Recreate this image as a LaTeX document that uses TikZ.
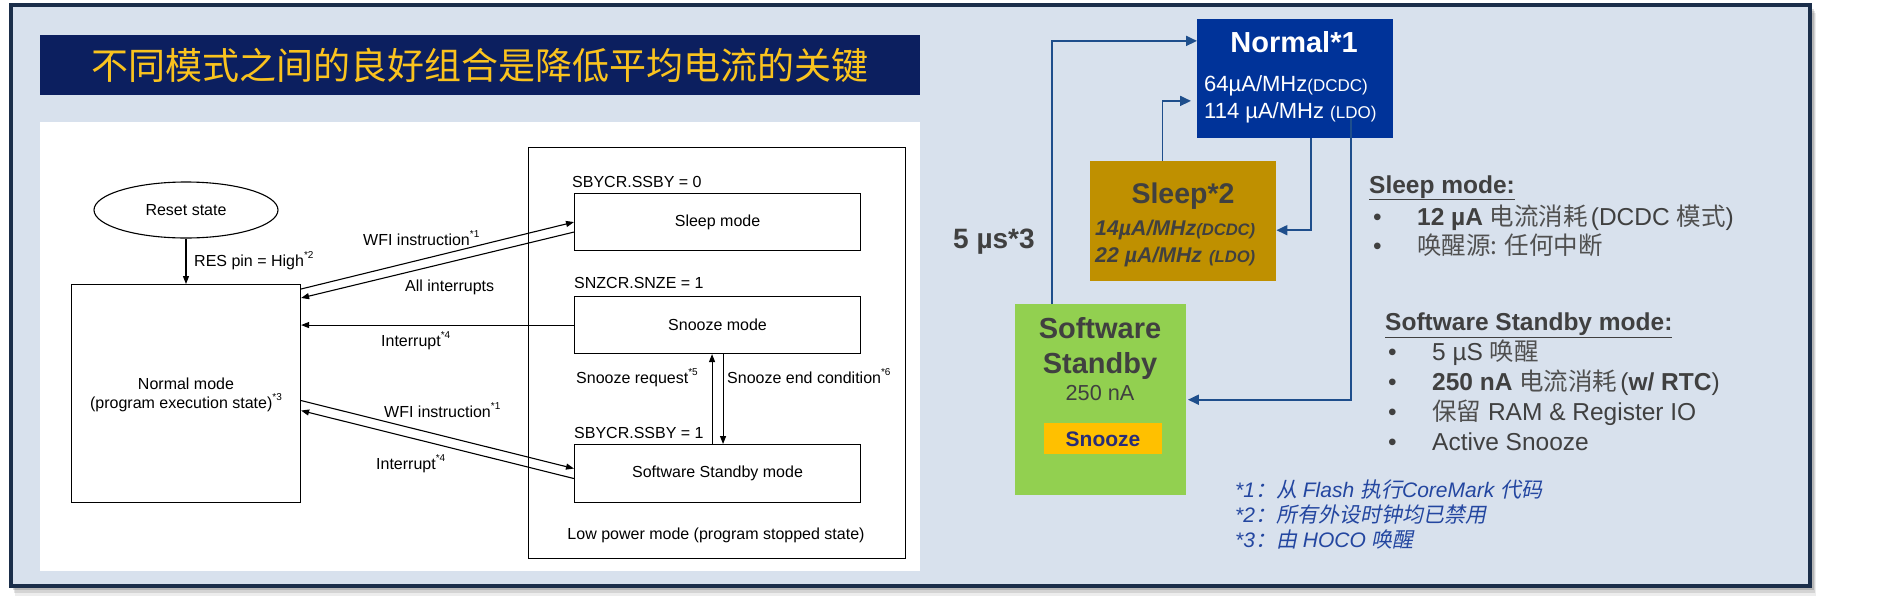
\documentclass[tikz,border=0pt]{standalone}
\usepackage{fontspec}
\setmainfont{Liberation Sans}
\newfontfamily\cjk{Noto Sans CJK SC}
\newfontfamily\cjkit[FakeSlant=0.2]{Noto Sans CJK SC}
\usetikzlibrary{arrows.meta,shapes.geometric}
\definecolor{framec}{RGB}{27,46,74}
\definecolor{bgc}{RGB}{216,225,237}
\definecolor{navyc}{RGB}{12,31,95}
\definecolor{titlec}{RGB}{250,195,30}
\definecolor{nblue}{RGB}{0,51,153}
\definecolor{goldc}{RGB}{191,144,0}
\definecolor{greenc}{RGB}{146,208,80}
\definecolor{snzc}{RGB}{255,192,0}
\definecolor{snztext}{RGB}{40,45,120}
\definecolor{arrowc}{RGB}{30,78,140}
\definecolor{txtgray}{RGB}{64,64,64}
\definecolor{cjkgray}{RGB}{80,80,80}
\definecolor{fnblue}{RGB}{35,70,160}
\newcommand\mysup[1]{\raisebox{0.45em}{\fontsize{10}{10}\selectfont #1}}
\tikzset{
  lbox/.style={draw=black, line width=1.1pt, fill=white, inner sep=0, anchor=north west},
  ltxt/.style={font=\fontsize{16}{19}\selectfont, inner sep=0, text=black},
  larr/.style={draw=black, line width=1.1pt, -{Triangle[length=8pt,width=6pt]}},
  rbox/.style={draw=none, inner sep=0, anchor=north west},
  rarr/.style={draw=arrowc, line width=1.8pt, -{Triangle[length=11pt,width=10pt]}},
  rt/.style={font=\fontsize{24.5}{28}\selectfont, text=txtgray, inner sep=0, anchor=base west},
  fn/.style={font=\fontsize{21}{24}\selectfont\itshape, text=fnblue, inner sep=0, anchor=base west},
}
\newcommand\zh[1]{{\cjk\color{cjkgray}#1}}
\begin{document}
\begin{tikzpicture}[x=1pt,y=-1pt]
\useasboundingbox (0,0) rectangle (1887,603);
\fill[white] (0,0) rectangle (1887,603);
% shadow
\fill[black,opacity=0.07] (15,13) rectangle (1816,596);
\fill[black,opacity=0.10] (14,11) rectangle (1815,593);
\fill[black,opacity=0.14] (13,9) rectangle (1814,590);
% frame
\draw[framec, line width=3.5pt, fill=bgc] (11,5) rectangle (1810,586);
% title
\node[fill=navyc, minimum width=880pt, minimum height=60pt, inner sep=0, anchor=north west] (tbar) at (40,35) {};
\node[font=\cjk\fontsize{37}{40}\selectfont, text=titlec, inner sep=0] (title) at (tbar.center) {不同模式之间的良好组合是降低平均电流的关键};
% left panel
\node[fill=white, minimum width=880pt, minimum height=449pt, inner sep=0, anchor=north west] (panel) at (40,122) {};
\node[lbox, minimum width=377pt, minimum height=411pt] (lp) at (528,147) {};
\node[lbox, minimum width=229pt, minimum height=218pt] (nrm) at (71,284) {};
\node[lbox, minimum width=286pt, minimum height=57pt] (slp) at (574,193) {};
\node[lbox, minimum width=286pt, minimum height=57pt] (snz) at (574,296) {};
\node[lbox, minimum width=286pt, minimum height=58pt] (sby) at (574,444) {};
\node[draw=black, ellipse, line width=1.1pt, fill=white, minimum width=184pt, minimum height=56pt, inner sep=0] (rst) at (186,210) {};
\node[ltxt] (rstt) at (rst.center) {Reset state};
\node[ltxt, anchor=base] (nrmt1) at (186,389) {Normal mode};
\node[ltxt, anchor=base] (nrmt2) at (186,408) {(program execution state)\mysup{*3}};
\node[ltxt] (slpt) at (slp.center) {Sleep mode};
\node[ltxt] (snzt) at (snz.center) {Snooze mode};
\node[ltxt] (sbyt) at (sby.center) {Software Standby mode};
\node[ltxt, anchor=base west] (c0) at (572,187) {SBYCR.SSBY = 0};
\node[ltxt, anchor=base west] (c1) at (574,288) {SNZCR.SNZE = 1};
\node[ltxt, anchor=base west] (c2) at (574,438) {SBYCR.SSBY = 1};
\node[ltxt, anchor=base] (lpt) at (716,539) {Low power mode (program stopped state)};
\node[ltxt, anchor=base west] (l1) at (194,266) {RES pin = High\mysup{*2}};
\node[ltxt, anchor=base west] (l2) at (363,245) {WFI instruction\mysup{*1}};
\node[ltxt, anchor=base west] (l3) at (405,291) {All interrupts};
\node[ltxt, anchor=base west] (l4) at (381,346) {Interrupt\mysup{*4}};
\node[ltxt, anchor=base west] (l5) at (576,383) {Snooze request\mysup{*5}};
\node[ltxt, anchor=base west] (l6) at (727,383) {Snooze end condition\mysup{*6}};
\node[ltxt, anchor=base west] (l7) at (384,417) {WFI instruction\mysup{*1}};
\node[ltxt, anchor=base west] (l8) at (376,469) {Interrupt\mysup{*4}};
\draw[larr] (rst.south) -- (rst.south |- nrm.north);
\draw[larr] ([yshift=-5pt]nrm.north east) -- (slp.west);
\draw[larr] ([yshift=-10pt]slp.west) -- ([yshift=-14pt]nrm.north east);
\draw[larr] (snz.west) -- (snz.west -| nrm.east);
\draw[larr] ([xshift=-5.5pt]sby.north) -- ([xshift=-5.5pt]snz.south);
\draw[larr] ([xshift=5.5pt]snz.south) -- ([xshift=5.5pt]sby.north);
\draw[larr] ([yshift=-7pt]nrm.east) -- ([yshift=5pt]sby.west);
\draw[larr] ([yshift=-5pt]sby.west) -- ([yshift=-17pt]nrm.east);
% right side boxes
\node[rbox, fill=nblue, minimum width=196pt, minimum height=119pt] (nrmR) at (1197,19) {};
\node[rbox, fill=goldc, minimum width=186pt, minimum height=120pt] (slpR) at (1090,161) {};
\node[rbox, fill=greenc, minimum width=171pt, minimum height=191pt] (sbyR) at (1015,304) {};
\node[rbox, fill=snzc, minimum width=118pt, minimum height=31pt] (snzR) at (1044,423) {};
\node[font=\fontsize{29}{32}\selectfont\bfseries, text=white, anchor=base, inner sep=0] (nt1) at (1294,52) {Normal*1};
\node[font=\fontsize{22}{26}\selectfont, text=white, anchor=base west, inner sep=0] (nt2) at (1204,91) {64µA/MHz{\fontsize{17}{20}\selectfont(DCDC)}};
\node[font=\fontsize{22}{26}\selectfont, text=white, anchor=base west, inner sep=0] (nt3) at (1204,118) {114 µA/MHz {\fontsize{17}{20}\selectfont(LDO)}};
\node[font=\fontsize{28.5}{32}\selectfont\bfseries, text=txtgray, anchor=base, inner sep=0] (st1) at (1183,203) {Sleep*2};
\node[font=\fontsize{21.3}{24}\selectfont\bfseries\itshape, text=txtgray, anchor=base west, inner sep=0] (st2) at (1095,235) {14µA/MHz{\fontsize{16.6}{20}\selectfont(DCDC)}};
\node[font=\fontsize{21.3}{24}\selectfont\bfseries\itshape, text=txtgray, anchor=base west, inner sep=0] (st3) at (1095,262) {22 µA/MHz{\fontsize{16.6}{20}\selectfont\hspace{7pt}(LDO)}};
\node[font=\fontsize{29}{32}\selectfont\bfseries, text=txtgray, anchor=base, inner sep=0] (sw1) at (1100,338.5) {Software};
\node[font=\fontsize{29}{32}\selectfont\bfseries, text=txtgray, anchor=base, inner sep=0] (sw2) at (1100,373.5) {Standby};
\node[font=\fontsize{21.7}{24}\selectfont, text=txtgray, anchor=base, inner sep=0] (sw3) at (1100,400.5) {250 nA};
\node[font=\fontsize{21}{24}\selectfont\bfseries, text=snztext, anchor=base, inner sep=0] (snzRt) at (1103,446.5) {Snooze};
\node[font=\fontsize{28}{32}\selectfont\bfseries, text=txtgray, anchor=base west, inner sep=0] (fiveus) at (953,248) {5 µs*3};
% right arrows
\draw[rarr] ([xshift=-48.8pt]sbyR.north) |- ([yshift=37.8pt]nrmR.west);
\draw[rarr] ([xshift=-20.7pt]slpR.north) |- ([xshift=-6pt,yshift=-22.2pt]nrmR.west);
\draw[rarr] ([xshift=15.7pt]nrmR.south) |- ([yshift=-9pt]slpR.east);
\draw[rarr] ([xshift=55.7pt,yshift=20pt]nrmR.south) |- ([xshift=1.5pt]sbyR.east);
% right text
\node[rt, font=\fontsize{24.5}{28}\selectfont\bfseries] (h1) at (1369,193) {\underline{Sleep mode:}};
\node[rt] (b1) at (1373,225) {•};
\node[rt] (b1t) at (1417,225) {{\bfseries 12 µA} \zh{电流消耗}\hspace{3pt}(DCDC \zh{模式})};
\node[rt] (b2) at (1373,254) {•};
\node[rt] (b2t) at (1417,254) {\zh{唤醒源: 任何中断}};
\node[rt, font=\fontsize{24.5}{28}\selectfont\bfseries] (h2) at (1385,330.5) {\underline{Software Standby mode:}};
\node[rt] (b3) at (1388,360.5) {•};
\node[rt] (b3t) at (1432,360.5) {5 µS \zh{唤醒}};
\node[rt] (b4) at (1388,390.5) {•};
\node[rt] (b4t) at (1432,390.5) {{\bfseries 250 nA} \zh{电流消耗}\hspace{3pt}({\bfseries w/ RTC})};
\node[rt] (b5) at (1388,420.5) {•};
\node[rt] (b5t) at (1432,420.5) {\zh{保留} RAM \& Register IO};
\node[rt] (b6) at (1388,450) {•};
\node[rt] (b6t) at (1432,450) {Active Snooze};
% footnotes
\node[fn] (f1) at (1235,497) {*1{\cjkit ：从} Flash {\cjkit 执行}CoreMark {\cjkit 代码}};
\node[fn] (f2) at (1235,522) {*2{\cjkit ：所有外设时钟均已禁用}};
\node[fn] (f3) at (1235,547) {*3{\cjkit ：由} HOCO {\cjkit 唤醒}};
\end{tikzpicture}
\end{document}
